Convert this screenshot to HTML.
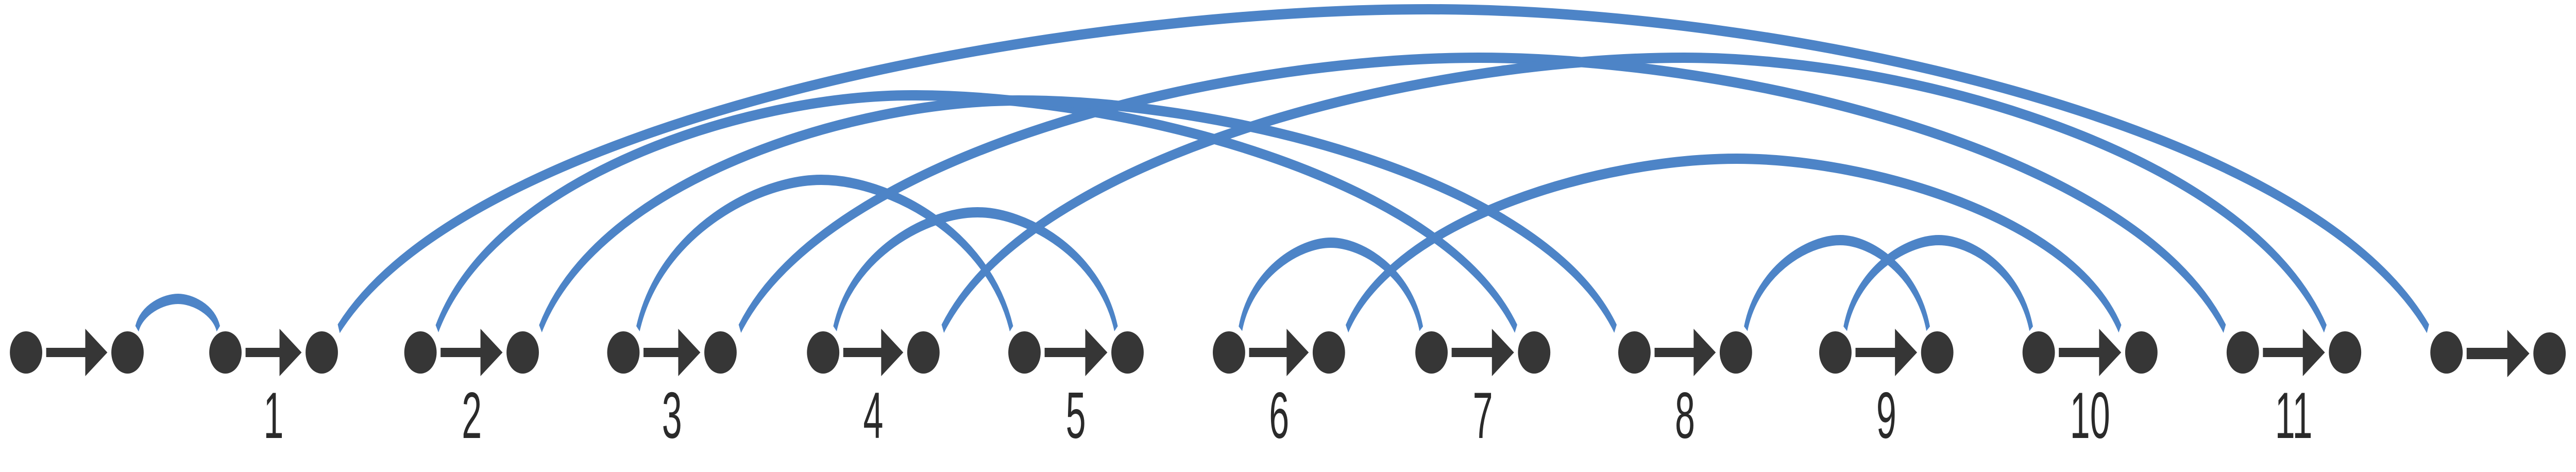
<!DOCTYPE html>
<html><head><meta charset="utf-8"><style>
html,body{margin:0;padding:0;background:#fff;overflow:hidden;}
svg{display:block;width:100vw;height:100vh;}
</style></head><body>
<svg viewBox="0 0 6525 916" preserveAspectRatio="none" xmlns="http://www.w3.org/2000/svg">
<g transform="scale(0.5,1)" fill="none" stroke="#4d84c7" stroke-width="20">
<path d="M694 638 C719 600 829 580 902 580 C973 580 1082 600 1106 638"/>
<path d="M1716 638 C2378 235 5306 18 7240 18 C9012 18 11692 235 12300 638"/>
<path d="M2214 638 C2502 344 3778 185 4620 185 C5692 185 7312 344 7680 638"/>
<path d="M2738 638 C3028 350 4312 195 5160 195 C6218 195 7822 350 8184 638"/>
<path d="M3232 638 C3344 450 3836 349 4160 349 C4498 349 5008 450 5124 638"/>
<path d="M3748 638 C4196 296 6180 112 7490 112 C8814 112 10816 296 11270 638"/>
<path d="M4230 638 C4316 491 4700 412 4952 412 C5198 412 5570 491 5654 638"/>
<path d="M4776 638 C5226 296 7216 112 8530 112 C9668 112 11390 296 11780 638"/>
<path d="M6284 638 C6338 529 6582 471 6742 471 C6902 471 7146 529 7200 638"/>
<path d="M6824 638 C7060 424 8108 308 8798 308 C9478 308 10506 424 10740 638"/>
<path d="M8844 638 C8902 526 9154 466 9322 466 C9478 466 9714 526 9768 638"/>
<path d="M9348 638 C9404 526 9656 466 9822 466 C9986 466 10234 526 10290 638"/>
</g>
<g fill="#363636">
<circle cx="66" cy="684" r="41"/><circle cx="323" cy="684" r="41"/>
<circle cx="571" cy="684" r="41"/><circle cx="815" cy="684" r="41"/>
<circle cx="1065" cy="684" r="41"/><circle cx="1324" cy="684" r="41"/>
<circle cx="1579" cy="684" r="41"/><circle cx="1825" cy="684" r="41"/>
<circle cx="2085" cy="684" r="41"/><circle cx="2339" cy="684" r="41"/>
<circle cx="2595" cy="684" r="41"/><circle cx="2856" cy="684" r="41"/>
<circle cx="3113" cy="684" r="41"/><circle cx="3366" cy="684" r="41"/>
<circle cx="3626" cy="684" r="41"/><circle cx="3886" cy="684" r="41"/>
<circle cx="4140" cy="684" r="41"/><circle cx="4397" cy="684" r="41"/>
<circle cx="4649" cy="684" r="41"/><circle cx="4907" cy="684" r="41"/>
<circle cx="5164" cy="684" r="41"/><circle cx="5424" cy="684" r="41"/>
<circle cx="5681" cy="684" r="41"/><circle cx="5940" cy="684" r="41"/>
<circle cx="6197" cy="684" r="41"/><circle cx="6458" cy="686" r="41"/>
</g>
<g fill="#363636">
<path d="M117 675 H216 V638 L272 684 L216 730 V693 H117 Z"/>
<path d="M622 675 H708 V638 L764 684 L708 730 V693 H622 Z"/>
<path d="M1116 675 H1217 V638 L1273 684 L1217 730 V693 H1116 Z"/>
<path d="M1630 675 H1718 V638 L1774 684 L1718 730 V693 H1630 Z"/>
<path d="M2136 675 H2232 V638 L2288 684 L2232 730 V693 H2136 Z"/>
<path d="M2646 675 H2749 V638 L2805 684 L2749 730 V693 H2646 Z"/>
<path d="M3164 675 H3259 V638 L3315 684 L3259 730 V693 H3164 Z"/>
<path d="M3677 675 H3779 V638 L3835 684 L3779 730 V693 H3677 Z"/>
<path d="M4191 675 H4290 V638 L4346 684 L4290 730 V693 H4191 Z"/>
<path d="M4700 675 H4800 V638 L4856 684 L4800 730 V693 H4700 Z"/>
<path d="M5215 675 H5317 V638 L5373 684 L5317 730 V693 H5215 Z"/>
<path d="M5732 675 H5833 V638 L5889 684 L5833 730 V693 H5732 Z"/>
<path d="M6248 675 H6351 V640 L6407 686 L6351 732 V697 H6248 Z"/>
</g>
<g fill="#2a2a2a" font-family="Liberation Sans, sans-serif" font-size="127" text-anchor="middle">
<text transform="translate(693,850) scale(0.72,1)">1</text>
<text transform="translate(1195,850) scale(0.72,1)">2</text>
<text transform="translate(1702,850) scale(0.72,1)">3</text>
<text transform="translate(2212,850) scale(0.72,1)">4</text>
<text transform="translate(2725,850) scale(0.72,1)">5</text>
<text transform="translate(3240,850) scale(0.72,1)">6</text>
<text transform="translate(3756,850) scale(0.72,1)">7</text>
<text transform="translate(4268,850) scale(0.72,1)">8</text>
<text transform="translate(4778,850) scale(0.72,1)">9</text>
<text transform="translate(5294,850) scale(0.72,1)">10</text>
<text transform="translate(5810,850) scale(0.72,1)">11</text>
</g>
</svg>
</body></html>
